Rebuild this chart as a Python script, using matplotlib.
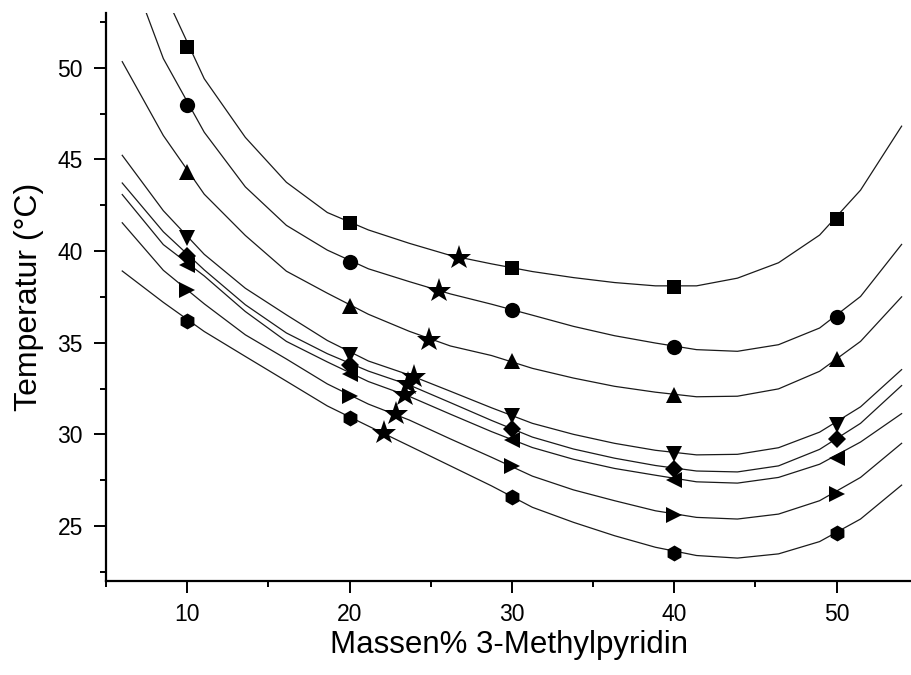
import matplotlib
matplotlib.use("Agg")
import matplotlib.pyplot as plt
from matplotlib.ticker import MultipleLocator

# ---------------- data ----------------
x_exp = [10, 20, 30, 40, 50]
T_square = [51.14, 41.52, 39.08, 38.05, 41.74]
T_circle = [47.95, 39.40, 36.80, 34.79, 36.41]
T_up = [44.33, 37.00, 34.00, 32.12, 34.10]
T_down = [40.70, 34.35, 31.00, 28.94, 30.49]
T_diamond = [39.72, 33.80, 30.27, 28.10, 29.72]
T_left = [39.24, 33.28, 29.68, 27.50, 28.69]
T_right = [37.90, 32.09, 28.25, 25.60, 26.77]
T_hex = [36.18, 30.90, 26.57, 23.55, 24.60]

x_crit = [26.75, 25.52, 24.90, 23.98, 23.60, 23.42, 22.87, 22.13]
T_crit = [39.62, 37.83, 35.16, 33.15, 32.72, 32.17, 31.09, 30.05]

x_fit = [6.00, 8.53, 11.05, 13.58, 16.11, 18.63, 21.16, 23.68, 26.21, 28.74,
         31.26, 33.79, 36.32, 38.84, 41.37, 43.89, 46.42, 48.95, 51.47, 54.00]
fit_square = [59.5, 54.2, 49.4, 46.2, 43.75, 42.1, 41.15, 40.42, 39.76, 39.3,
              38.88, 38.55, 38.28, 38.1, 38.1, 38.52, 39.36, 40.87, 43.32, 46.81]
fit_circle = [56.5, 50.5, 46.48, 43.5, 41.4, 40.05, 39.03, 38.33, 37.66, 37.1,
              36.5, 35.89, 35.38, 34.98, 34.62, 34.53, 34.89, 35.8, 37.52, 40.36]
fit_up = [50.33, 46.3, 43.1, 40.85, 38.9, 37.7, 36.55, 35.62, 34.82, 34.3,
          33.6, 33.07, 32.62, 32.3, 32.05, 32.08, 32.48, 33.44, 35.07, 37.5]
fit_down = [45.22, 42.2, 39.82, 37.97, 36.52, 35.12, 34.0, 33.24, 32.35, 31.45,
            30.6, 30.0, 29.51, 29.13, 28.88, 28.91, 29.27, 30.12, 31.5, 33.53]
fit_diamond = [43.71, 41.05, 38.97, 37.07, 35.53, 34.4, 33.45, 32.69, 31.73, 30.76,
               29.85, 29.2, 28.7, 28.3, 28.0, 27.95, 28.28, 29.18, 30.6, 32.66]
fit_left = [43.08, 40.35, 38.64, 36.7, 35.07, 33.95, 32.88, 32.07, 31.1, 30.15,
            29.28, 28.64, 28.14, 27.77, 27.41, 27.34, 27.65, 28.37, 29.58, 31.13]
fit_right = [41.54, 38.95, 37.12, 35.43, 34.11, 32.75, 31.65, 30.78, 29.75, 28.75,
             27.72, 26.97, 26.38, 25.83, 25.47, 25.38, 25.65, 26.38, 27.65, 29.51]
fit_hex = [38.91, 37.2, 35.61, 34.25, 32.9, 31.55, 30.45, 29.37, 28.28, 27.19,
           26.02, 25.2, 24.47, 23.84, 23.39, 23.25, 23.48, 24.15, 25.38, 27.23]

x_label = "Massen% 3-Methylpyridin"
y_label = "Temperatur (°C)"

# ---------------- plot ----------------
plt.rcParams['font.family'] = ['Liberation Sans', 'DejaVu Sans']

fig = plt.figure(figsize=(9.12, 6.75), dpi=100)
ax = fig.add_axes([106 / 912, 1 - 581 / 675, (912 - 106) / 912, (581 - 12.7) / 675])

line_kw = dict(color='#1a1a1a', lw=0.9, zorder=2)
for fit in [fit_square, fit_circle, fit_up, fit_down, fit_diamond, fit_left, fit_right, fit_hex]:
    ax.plot(x_fit, fit, **line_kw)

series = [
    (T_square, 's', 9.5),
    (T_circle, 'o', 11.0),
    (T_up, '^', 12.0),
    (T_down, 'v', 12.0),
    (T_diamond, 'D', 9.0),
    (T_left, '<', 12.0),
    (T_right, '>', 12.0),
    (T_hex, 'h', 11.5),
]
for vals, m, ms in series:
    ax.plot(x_exp, vals, linestyle='none', marker=m, ms=ms, color='black',
            markeredgewidth=0, zorder=3)

ax.plot(x_crit, T_crit, linestyle='none', marker='*', ms=18.5, color='black',
        markeredgewidth=0, zorder=4)

ax.set_xlim(5, 54.64)
ax.set_ylim(22, 53)

ax.spines['top'].set_visible(False)
ax.spines['right'].set_visible(False)
for s in ['left', 'bottom']:
    ax.spines[s].set_linewidth(1.6)

ax.xaxis.set_major_locator(MultipleLocator(10))
ax.xaxis.set_minor_locator(MultipleLocator(5))
ax.yaxis.set_major_locator(MultipleLocator(5))
ax.yaxis.set_minor_locator(MultipleLocator(2.5))

ax.tick_params(axis='both', which='major', direction='out', length=8.5, width=1.4,
               labelsize=16.5)
ax.tick_params(axis='both', which='minor', direction='out', length=4.5, width=1.4)
ax.tick_params(axis='x', which='major', pad=7)
ax.tick_params(axis='y', which='major', pad=8)

ax.set_xlabel(x_label, fontsize=22.5, labelpad=3)
ax.set_ylabel(y_label, fontsize=23, labelpad=10)

fig.savefig("out.png", dpi=100)
